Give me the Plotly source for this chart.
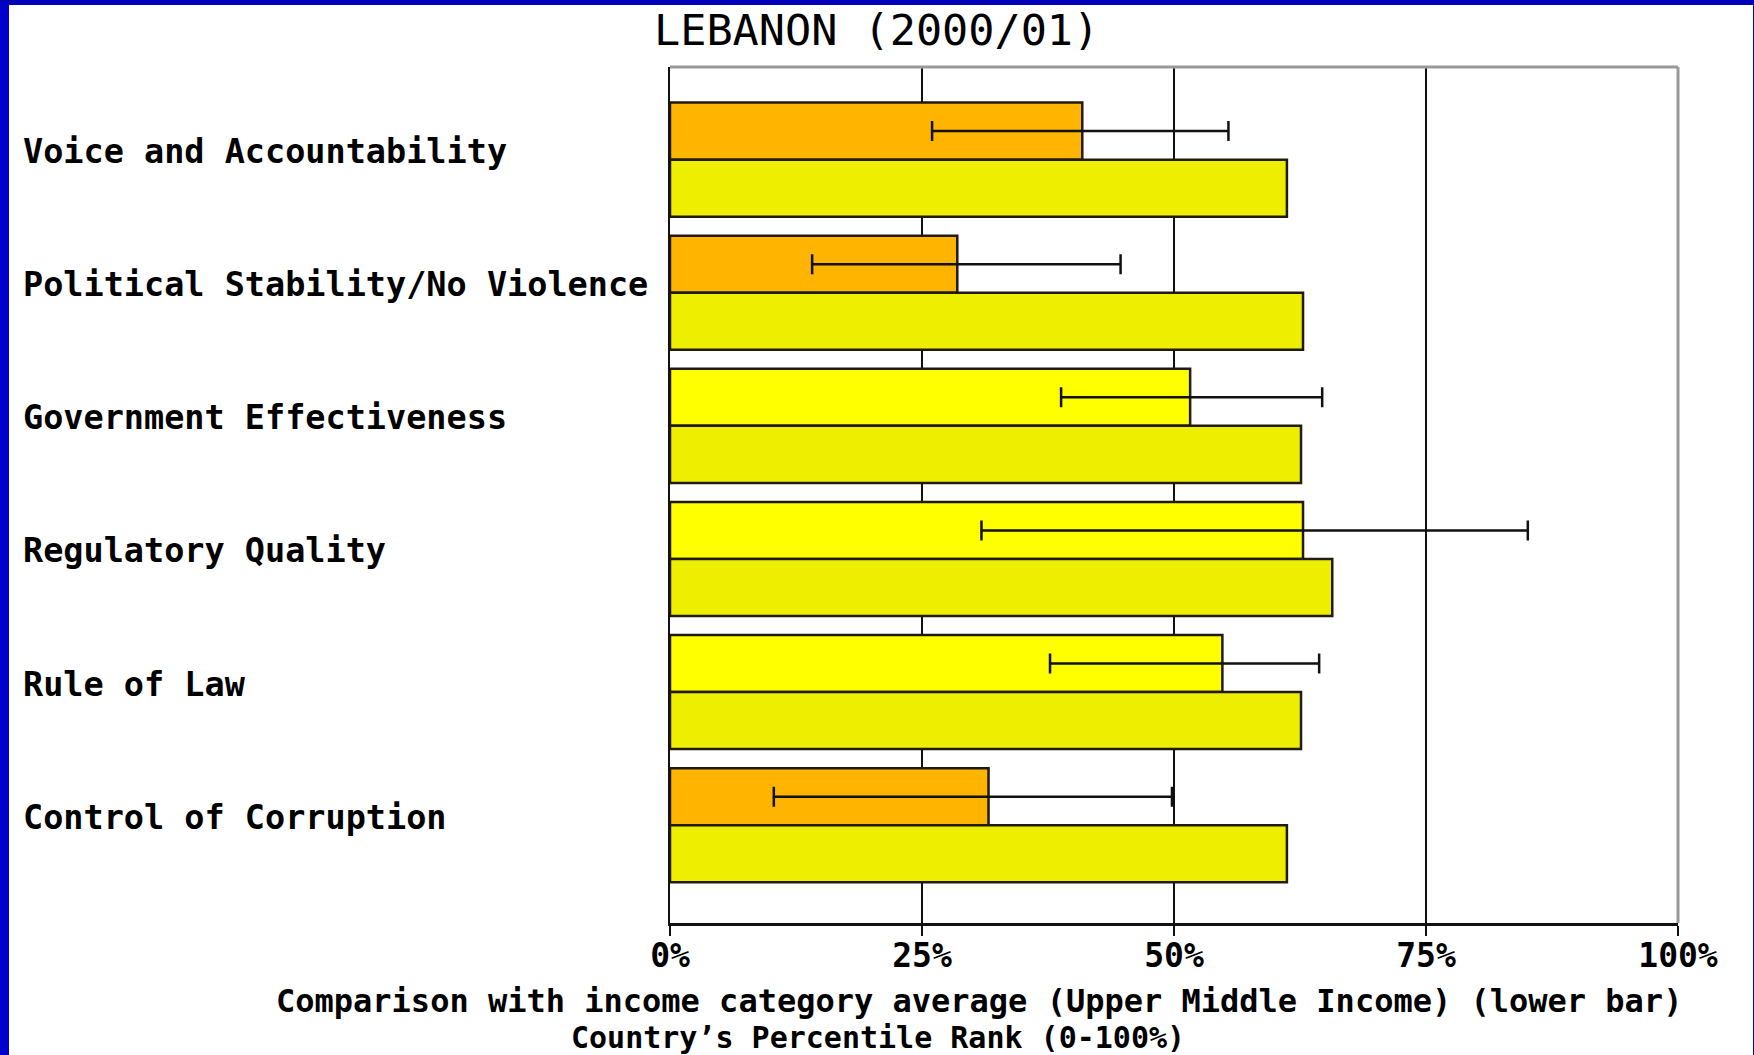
import plotly.graph_objects as go

W, H = 1754, 1055
L, R, T, B = 670, 76, 67, 132  # plot area margins (px)

categories = ["Voice and Accountability", "Political Stability/No Violence",
              "Government Effectiveness", "Regulatory Quality",
              "Rule of Law", "Control of Corruption"]
country_rank = [40.9, 28.5, 51.6, 62.8, 54.8, 31.6]
err_low = [26.0, 14.1, 38.8, 30.9, 37.7, 10.3]
err_high = [55.4, 44.7, 64.7, 85.1, 64.4, 49.8]
income_avg = [61.2, 62.8, 62.6, 65.7, 62.6, 61.2]
country_colors = ["#FFB400", "#FFB400", "#FFFF00", "#FFFF00", "#FFFF00", "#FFB400"]
tick_vals = [0, 25, 50, 75, 100]
tick_text = ["0%", "25%", "50%", "75%", "100%"]

title_text = "LEBANON (2000/01)"
xtitle1 = "Comparison with income category average (Upper Middle Income) (lower bar)"
xtitle2 = "Country’s Percentile Rank (0-100%)"

mono = "DejaVu Sans Mono"
pw, ph = W - L - R, H - T - B

def px_x(p):
    return (p - L) / pw

def px_y(p):
    return (H - B - p) / ph

fig = go.Figure()
fig.add_trace(go.Bar(
    y=categories, x=country_rank, orientation="h",
    marker=dict(color=country_colors, line=dict(color="#201a10", width=2.5)),
    error_x=dict(type="data", symmetric=False,
                 array=[h - v for h, v in zip(err_high, country_rank)],
                 arrayminus=[v - lo for v, lo in zip(country_rank, err_low)],
                 color="#111111", thickness=2.5, width=10),
    showlegend=False, hoverinfo="skip"))
fig.add_trace(go.Bar(
    y=categories, x=income_avg, orientation="h",
    marker=dict(color="#EEEE00", line=dict(color="#201a10", width=2.5)),
    showlegend=False, hoverinfo="skip"))

annotations = []
for c in categories:
    annotations.append(dict(text=c, x=px_x(21), xref="paper", xanchor="left",
                            y=c, yref="y", yanchor="middle", yshift=8,
                            showarrow=False,
                            font=dict(family=mono, size=33.5, color="black", weight="bold")))
annotations.append(dict(text=xtitle1, x=px_x(979), xref="paper", xanchor="center",
                        y=px_y(1001), yref="paper", yanchor="middle", showarrow=False,
                        font=dict(family=mono, size=32, color="black", weight="bold")))
annotations.append(dict(text=xtitle2, x=px_x(878), xref="paper", xanchor="center",
                        y=px_y(1037), yref="paper", yanchor="middle", showarrow=False,
                        font=dict(family=mono, size=30, color="black", weight="bold")))
annotations.append(dict(text=title_text, x=px_x(876), xref="paper", xanchor="center",
                        y=px_y(30), yref="paper", yanchor="middle", showarrow=False,
                        font=dict(family=mono, size=43.5, color="black")))

blue = "#0000CC"
shapes = [
    dict(type="rect", xref="paper", yref="paper", x0=px_x(0), x1=px_x(9),
         y0=px_y(H), y1=px_y(0), fillcolor=blue, line=dict(width=0), layer="above"),
    dict(type="rect", xref="paper", yref="paper", x0=px_x(0), x1=px_x(W),
         y0=px_y(5), y1=px_y(0), fillcolor="#0000B8", line=dict(width=0), layer="above"),
    dict(type="rect", xref="paper", yref="paper", x0=px_x(W - 1), x1=px_x(W),
         y0=px_y(H), y1=px_y(0), fillcolor=blue, line=dict(width=0), layer="above"),
    # top and right plot borders (grey)
    dict(type="line", xref="paper", yref="paper", x0=0, x1=1, y0=1, y1=1,
         line=dict(color="#999999", width=3), layer="above"),
    dict(type="line", xref="paper", yref="paper", x0=1, x1=1, y0=0, y1=1,
         line=dict(color="#999999", width=3), layer="above"),
]

fig.update_layout(
    width=W, height=H,
    margin=dict(l=L, r=R, t=T, b=B, pad=0),
    paper_bgcolor="white", plot_bgcolor="white",
    barmode="group", bargap=0.143, bargroupgap=0,
    annotations=annotations, shapes=shapes,
    xaxis=dict(range=[0, 100], tickvals=tick_vals, ticktext=tick_text,
               showgrid=True, gridcolor="#111111", gridwidth=2,
               showline=True, linecolor="#111111", linewidth=3,
               ticks="outside", ticklen=10, tickcolor="#111111", tickwidth=2,
               tickfont=dict(family=mono, size=33, color="black", weight="bold"),
               zeroline=False, fixedrange=True),
    yaxis=dict(range=[5.735, -0.696], showticklabels=False, showgrid=False,
               showline=True, linecolor="#111111", linewidth=2,
               ticks="", zeroline=False, fixedrange=True),
)
try:
    fig.update_xaxes(ticklabelstandoff=-9)
except Exception:
    pass

fig.write_html("out.html",
               config={"displayModeBar": False},
               post_script="document.body.style.margin='0';"
                           "document.body.style.overflow='hidden';")
